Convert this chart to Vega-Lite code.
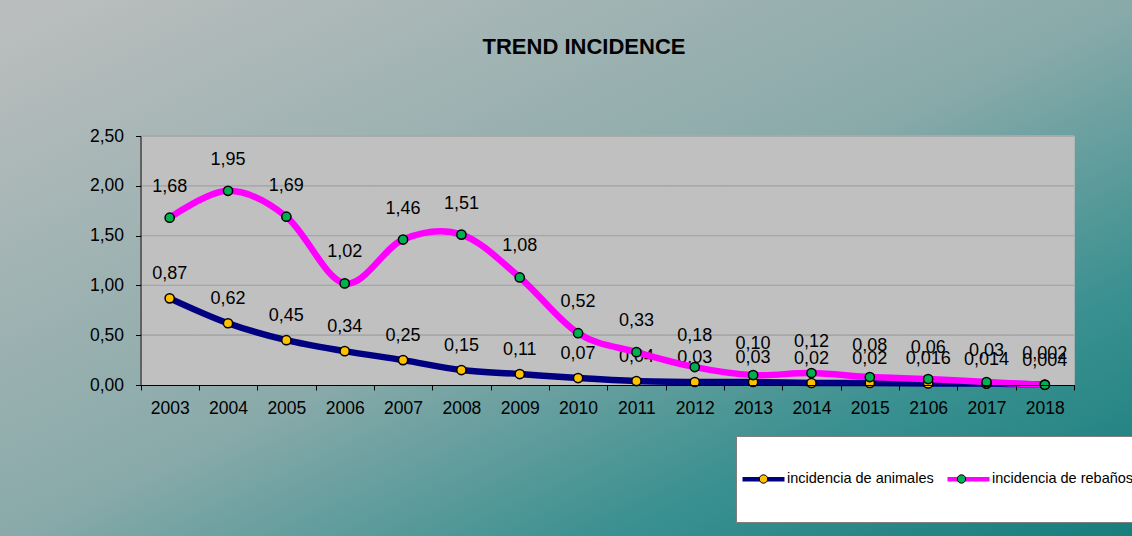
{
  "$schema": "https://vega.github.io/schema/vega-lite/v6.json",
  "width": 1132,
  "height": 536,
  "autosize": {"type": "none"},
  "padding": 0,
  "background": "#8AAAAA",
  "view": {
    "stroke": null,
    "fill": {
      "gradient": "linear",
      "x1": 0, "y1": 0, "x2": 1, "y2": 1,
      "stops": [
        {"offset": 0, "color": "#BCBEBE"},
        {"offset": 0.5, "color": "#8AAAAA"},
        {"offset": 0.77, "color": "#3A9090"},
        {"offset": 1, "color": "#167E7C"}
      ]
    }
  },
  "title": {
    "text": "TREND INCIDENCE",
    "fontSize": 22,
    "fontWeight": "bold",
    "font": "Liberation Sans",
    "color": "black",
    "anchor": "middle",
    "frame": "group",
    "dx": 18,
    "baseline": "alphabetic",
    "offset": -76
  },
  "data": {
    "values": [
      {"year": "2003", "serie": "incidencia de animales", "value": 0.87, "label": "0,87"},
      {"year": "2004", "serie": "incidencia de animales", "value": 0.62, "label": "0,62"},
      {"year": "2005", "serie": "incidencia de animales", "value": 0.45, "label": "0,45"},
      {"year": "2006", "serie": "incidencia de animales", "value": 0.34, "label": "0,34"},
      {"year": "2007", "serie": "incidencia de animales", "value": 0.25, "label": "0,25"},
      {"year": "2008", "serie": "incidencia de animales", "value": 0.15, "label": "0,15"},
      {"year": "2009", "serie": "incidencia de animales", "value": 0.11, "label": "0,11"},
      {"year": "2010", "serie": "incidencia de animales", "value": 0.07, "label": "0,07"},
      {"year": "2011", "serie": "incidencia de animales", "value": 0.04, "label": "0,04"},
      {"year": "2012", "serie": "incidencia de animales", "value": 0.03, "label": "0,03"},
      {"year": "2013", "serie": "incidencia de animales", "value": 0.03, "label": "0,03"},
      {"year": "2014", "serie": "incidencia de animales", "value": 0.02, "label": "0,02"},
      {"year": "2015", "serie": "incidencia de animales", "value": 0.02, "label": "0,02"},
      {"year": "2106", "serie": "incidencia de animales", "value": 0.016, "label": "0,016"},
      {"year": "2017", "serie": "incidencia de animales", "value": 0.014, "label": "0,014"},
      {"year": "2018", "serie": "incidencia de animales", "value": 0.004, "label": "0,004"},
      {"year": "2003", "serie": "incidencia de rebaños", "value": 1.68, "label": "1,68"},
      {"year": "2004", "serie": "incidencia de rebaños", "value": 1.95, "label": "1,95"},
      {"year": "2005", "serie": "incidencia de rebaños", "value": 1.69, "label": "1,69"},
      {"year": "2006", "serie": "incidencia de rebaños", "value": 1.02, "label": "1,02"},
      {"year": "2007", "serie": "incidencia de rebaños", "value": 1.46, "label": "1,46"},
      {"year": "2008", "serie": "incidencia de rebaños", "value": 1.51, "label": "1,51"},
      {"year": "2009", "serie": "incidencia de rebaños", "value": 1.08, "label": "1,08"},
      {"year": "2010", "serie": "incidencia de rebaños", "value": 0.52, "label": "0,52"},
      {"year": "2011", "serie": "incidencia de rebaños", "value": 0.33, "label": "0,33"},
      {"year": "2012", "serie": "incidencia de rebaños", "value": 0.18, "label": "0,18"},
      {"year": "2013", "serie": "incidencia de rebaños", "value": 0.10, "label": "0,10"},
      {"year": "2014", "serie": "incidencia de rebaños", "value": 0.12, "label": "0,12"},
      {"year": "2015", "serie": "incidencia de rebaños", "value": 0.08, "label": "0,08"},
      {"year": "2106", "serie": "incidencia de rebaños", "value": 0.06, "label": "0,06"},
      {"year": "2017", "serie": "incidencia de rebaños", "value": 0.03, "label": "0,03"},
      {"year": "2018", "serie": "incidencia de rebaños", "value": 0.002, "label": "0,002"}
    ]
  },
  "encoding": {
    "x": {
      "field": "year",
      "type": "ordinal",
      "sort": null,
      "scale": {"paddingInner": 0, "paddingOuter": 0, "range": [140.5, 1074]},
      "axis": {
        "title": null,
        "offset": -151,
        "zindex": 1,
        "domain": true,
        "domainColor": "black",
        "labelAngle": 0,
        "labelFontSize": 17.5,
        "labelFont": "Liberation Sans",
        "labelColor": "black",
        "labelPadding": 9,
        "tickSize": 5,
        "tickColor": "black",
        "tickBand": "extent",
        "grid": false
      }
    },
    "y": {
      "field": "value",
      "type": "quantitative",
      "scale": {"domain": [0, 2.5], "nice": false, "zero": false, "range": [385, 136]},
      "axis": {
        "title": null,
        "offset": -140.5,
        "zindex": 1,
        "domain": true,
        "domainColor": "black",
        "values": [0, 0.5, 1, 1.5, 2, 2.5],
        "labelExpr": "replace(format(datum.value, '.2f'), '.', ',')",
        "labelFontSize": 17.5,
        "labelFont": "Liberation Sans",
        "labelColor": "black",
        "labelPadding": 12,
        "tickSize": 5,
        "tickColor": "black",
        "grid": false
      }
    }
  },
  "layer": [
    {
      "mark": {"type": "rect", "fill": "#C0C0C0", "stroke": "#C0C0C0", "strokeWidth": 1},
      "encoding": {"y": {"datum": 0}, "y2": {"datum": 2.5}}
    },
    {
      "mark": {"type": "rect", "fillOpacity": 0, "stroke": "#A6A6A6", "strokeWidth": 0.6},
      "encoding": {"y": {"datum": 0.5}, "y2": {"datum": 0.5}}
    },
    {
      "mark": {"type": "rect", "fillOpacity": 0, "stroke": "#A6A6A6", "strokeWidth": 0.6},
      "encoding": {"y": {"datum": 1}, "y2": {"datum": 1}}
    },
    {
      "mark": {"type": "rect", "fillOpacity": 0, "stroke": "#A6A6A6", "strokeWidth": 0.6},
      "encoding": {"y": {"datum": 1.5}, "y2": {"datum": 1.5}}
    },
    {
      "mark": {"type": "rect", "fillOpacity": 0, "stroke": "#A6A6A6", "strokeWidth": 0.6},
      "encoding": {"y": {"datum": 2}, "y2": {"datum": 2}}
    },
    {
      "mark": {"type": "rect", "fillOpacity": 0, "stroke": "#A6A6A6", "strokeWidth": 0.6},
      "encoding": {"y": {"datum": 2.5}, "y2": {"datum": 2.5}}
    },
    {
      "transform": [{"filter": "datum.serie == 'incidencia de animales'"}],
      "mark": {"type": "text", "dy": -24, "fontSize": 18, "font": "Liberation Sans", "color": "black"},
      "encoding": {
        "text": {"field": "label"},
        "opacity": {
          "field": "serie",
          "type": "nominal",
          "scale": {"domain": ["incidencia de rebaños", "incidencia de animales"], "range": [1, 1]},
          "legend": {
            "orient": "none",
            "legendX": 736,
            "legendY": 436,
            "title": null,
            "direction": "horizontal",
            "padding": 7,
            "fillColor": "white",
            "strokeColor": "#7F7F7F",
            "symbolType": "M-1,-1h0.002v0.002h-0.002Z M1,1h-0.002v-0.002h0.002Z",
            "symbolSize": 5184,
            "symbolStrokeWidth": 0,
            "labelExpr": "''",
            "labelFontSize": 1,
            "labelOffset": 0,
            "columnPadding": 238
          }
        }
      }
    },
    {
      "transform": [{"filter": "datum.serie == 'incidencia de rebaños'"}],
      "mark": {"type": "text", "dy": -31, "fontSize": 18, "font": "Liberation Sans", "color": "black"},
      "encoding": {
        "text": {"field": "label"}
      }
    },
    {
      "mark": {"type": "line", "interpolate": "cardinal", "strokeWidth": 6.5},
      "encoding": {
        "stroke": {
          "field": "serie",
          "type": "nominal",
          "scale": {"range": ["#000080", "#FF00FF"]},
          "legend": {
            "orient": "none",
            "legendX": 740,
            "legendY": 455.5,
            "title": null,
            "direction": "horizontal",
            "padding": 0,
            "symbolType": "stroke",
            "symbolSize": 1764,
            "symbolStrokeWidth": 4.5,
            "labelFontSize": 14.5,
            "labelFont": "Liberation Sans",
            "labelColor": "black",
            "labelOffset": 0,
            "columnPadding": 4,
            "labelLimit": 400,
            "encode": {"symbols": {"update": {"strokeWidth": {"value": 4.5}}}}
          }
        }
      }
    },
    {
      "mark": {"type": "point", "filled": true, "size": 85, "stroke": "black", "strokeWidth": 1.5, "opacity": 1},
      "encoding": {
        "fill": {
          "field": "serie",
          "type": "nominal",
          "scale": {"domain": ["incidencia de animales", "incidencia de rebaños"], "range": ["#FFC000", "#00B050"]},
          "legend": {
            "orient": "none",
            "legendX": 740,
            "legendY": 455.5,
            "title": null,
            "direction": "horizontal",
            "padding": 0,
            "symbolType": "M0.183,0A0.183,0.183,0,1,1,-0.183,0A0.183,0.183,0,1,1,0.183,0Z",
            "symbolSize": 2107,
            "symbolStrokeWidth": 1,
            "symbolStrokeColor": "black",
            "labelFontSize": 14.5,
            "labelFont": "Liberation Sans",
            "labelColor": "transparent",
            "labelOffset": 0,
            "columnPadding": 4,
            "labelLimit": 400,
            "encode": {"symbols": {"update": {"strokeWidth": {"value": 1}, "stroke": {"value": "black"}}}}
          }
        }
      }
    }
  ],
  "config": {
    "font": "Liberation Sans"
  }
}
